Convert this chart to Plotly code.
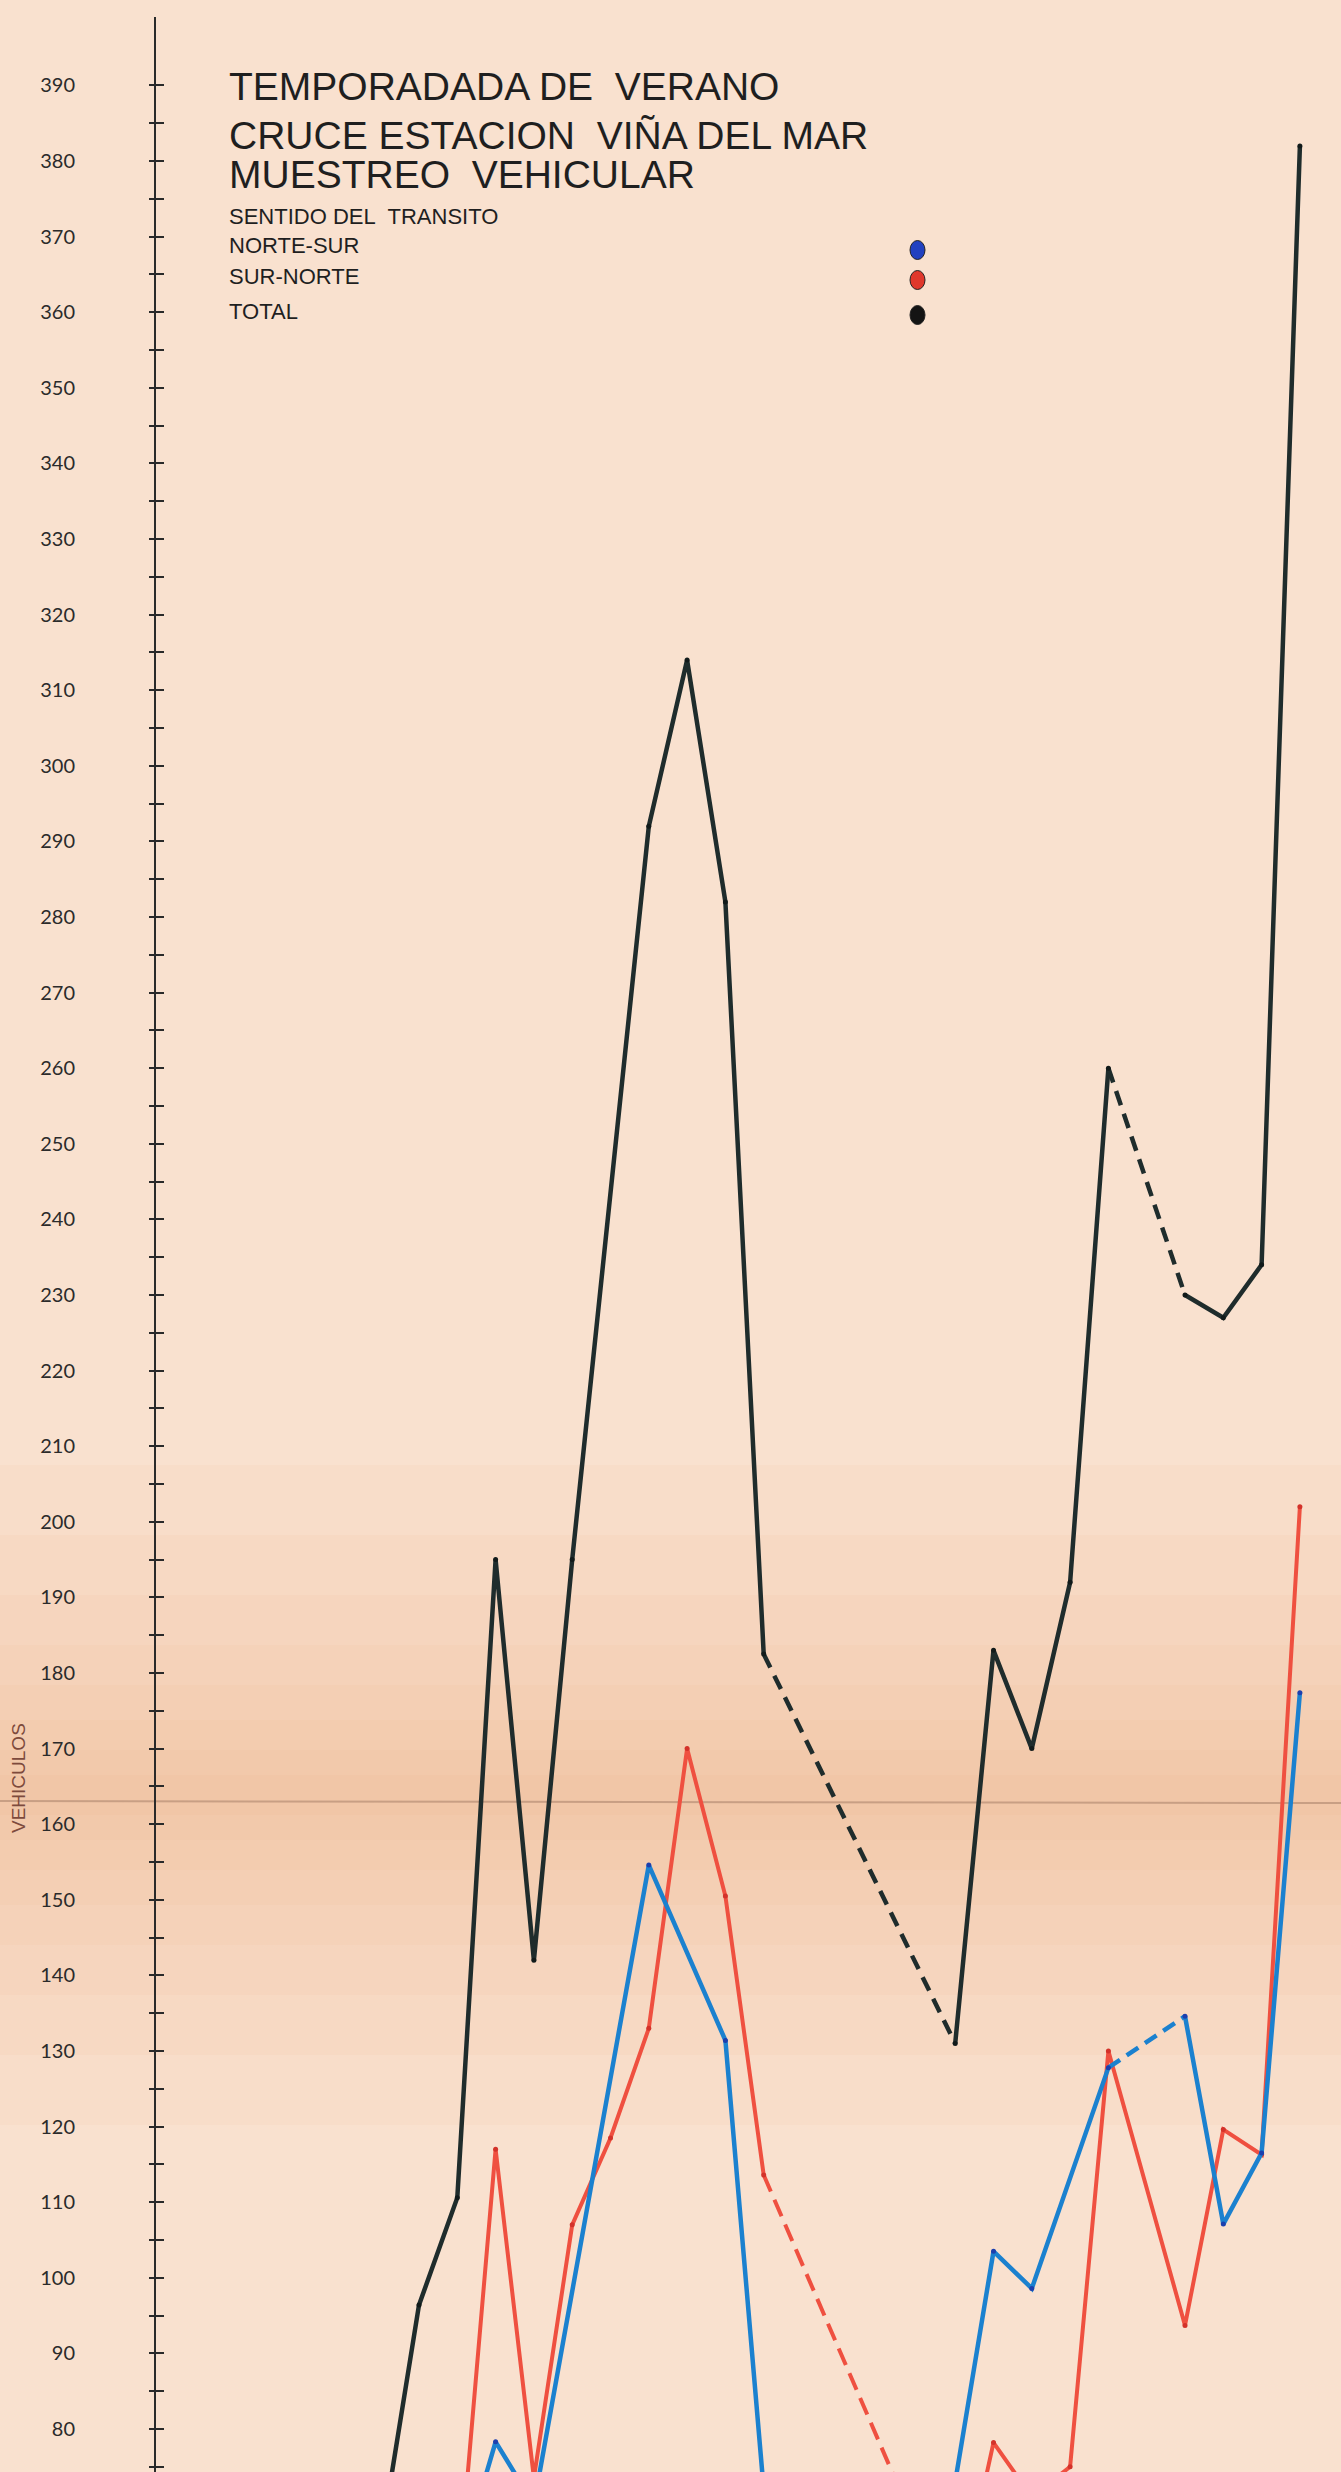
import plotly.graph_objects as go

# ---------------- data ----------------
# day index (1 = first day, partly below the visible range)
DIAS_TOTAL = [1, 2, 3, 4, 5, 6, 8, 9, 10, 11, 16, 17, 18, 19, 20, 22, 23, 24, 25]
TOTAL = [65, 96.4, 110.6, 195, 142, 195, 292, 314, 282, 182.5,
         131, 183, 170, 192, 260, 230, 227, 234, 382]

DIAS_SUR_NORTE = [3, 4, 5, 6, 7, 8, 9, 10, 11, 16, 17, 18, 19, 20, 22, 23, 24, 25]
SUR_NORTE = [58, 117, 73.5, 107, 118.5, 133, 170, 150.5, 113.6,
             55, 78.2, 71, 75, 130, 93.7, 119.6, 116.3, 202]

DIAS_NORTE_SUR = [3, 4, 5, 8, 10, 11, 16, 17, 18, 20, 22, 23, 24, 25]
NORTE_SUR = [61, 78.3, 70, 154.6, 131.4, 72,
             73, 103.5, 98.6, 127.8, 134.6, 107.1, 116.5, 177.4]

# stretches drawn dashed (from day, to day)
TRAMOS_TOTAL = [(11, 16), (20, 22)]
TRAMOS_SUR_NORTE = [(11, 16)]
TRAMOS_NORTE_SUR = [(11, 16), (20, 22)]

Y_TICKS = list(range(75, 395, 5))
Y_TICK_LABELS = [str(v) if v % 10 == 0 else "" for v in Y_TICKS]

TITULOS = ["TEMPORADADA DE\u00a0 VERANO",
           "CRUCE ESTACION\u00a0 VIÑA DEL MAR",
           "MUESTREO\u00a0 VEHICULAR"]
SUBTITULO = "SENTIDO DEL\u00a0 TRANSITO"
LEYENDA = ["NORTE-SUR", "SUR-NORTE", "TOTAL"]

# ---------------- layout geometry (pixels) ----------------
W, H = 1341, 2472
ML, MT = 156, 17
X0_PX, STEP_PX = 419, 38.3          # pixel of day 2 and spacing
Y_RANGE = [74.31, 399.06]
X_RANGE = [2 + (ML - X0_PX) / STEP_PX, 2 + (W - X0_PX) / STEP_PX]


def fx(px):
    return (px - ML) / (W - ML)


def fy(py):
    return (H - py) / (H - MT)


def split(days, vals, gaps):
    sx, sy = [], []
    for i, (d, v) in enumerate(zip(days, vals)):
        if i > 0 and (days[i - 1], d) in gaps:
            sx.append(None)
            sy.append(None)
        sx.append(d)
        sy.append(v)
    dx, dy = [], []
    for a, b in gaps:
        dx += [a, b, None]
        dy += [vals[days.index(a)], vals[days.index(b)], None]
    return sx, sy, dx, dy


fig = go.Figure()

series = [
    ("SUR-NORTE", DIAS_SUR_NORTE, SUR_NORTE, TRAMOS_SUR_NORTE, "#ef5040", "#d3322a", 4, "18px,9px"),
    ("NORTE-SUR", DIAS_NORTE_SUR, NORTE_SUR, TRAMOS_NORTE_SUR, "#1b81cf", "#1c3fae", 4.5, "14px,8px"),
    ("TOTAL", DIAS_TOTAL, TOTAL, TRAMOS_TOTAL, "#1f2c2c", "#111a1a", 4.5, "15px,9px"),
]
for name, days, vals, gaps, col, mcol, lw, dash in series:
    sx, sy, dx, dy = split(days, vals, gaps)
    fig.add_trace(go.Scatter(x=dx, y=dy, mode="lines", name=name, showlegend=False,
                             line=dict(color=col, width=lw, dash=dash), hoverinfo="skip"))
    fig.add_trace(go.Scatter(x=sx, y=sy, mode="lines+markers", name=name, showlegend=False,
                             line=dict(color=col, width=lw),
                             marker=dict(color=mcol, size=5)))

# helper trace so the second (tick) axis is drawn
fig.add_trace(go.Scatter(x=[None], y=[None], yaxis="y2", showlegend=False, hoverinfo="skip"))

axis_col = "#2a2a2a"
fig.update_layout(
    width=W, height=H,
    margin=dict(l=ML, r=0, t=MT, b=0, autoexpand=False),
    paper_bgcolor="#f9e1cf",
    plot_bgcolor="rgba(0,0,0,0)",
    showlegend=False,
    xaxis=dict(visible=False, range=X_RANGE, fixedrange=True),
    yaxis=dict(range=Y_RANGE, tickmode="array", tickvals=Y_TICKS, ticktext=Y_TICK_LABELS,
               ticks="outside", ticklen=5, tickwidth=2, tickcolor=axis_col,
               showline=True, linewidth=2, linecolor=axis_col,
               showgrid=False, zeroline=False, automargin=False,
               tickfont=dict(family="Lato", size=20, color="#2b2b2b"),
               ticklabelstandoff=70),
    yaxis2=dict(range=Y_RANGE, overlaying="y", side="left", tickmode="array",
                tickvals=Y_TICKS, ticktext=["" for _ in Y_TICKS],
                ticks="inside", ticklen=8, tickwidth=2, tickcolor=axis_col,
                showline=False, showgrid=False, zeroline=False, showticklabels=False),
)

# paper discolouration band and fold crease
shapes = []
for hh in [330, 260, 200, 150, 110, 75, 45, 20]:
    shapes.append(dict(type="rect", xref="paper", yref="paper", layer="below",
                       x0=fx(0), x1=fx(W), y0=fy(1795 + hh), y1=fy(1795 - hh),
                       line=dict(width=0), fillcolor="rgba(236,150,100,0.05)"))
shapes.append(dict(type="line", xref="paper", yref="paper", layer="below",
                   x0=fx(0), x1=fx(W), y0=fy(1801), y1=fy(1803),
                   line=dict(color="rgba(140,100,80,0.4)", width=2)))

# legend dots
for cy, col in [(250, "#2241c0"), (280, "#e0382c"), (315, "#141414")]:
    shapes.append(dict(type="circle", xref="paper", yref="paper", layer="above",
                       x0=fx(910), x1=fx(925), y0=fy(cy + 9.5), y1=fy(cy - 9.5),
                       fillcolor=col, line=dict(color="#222", width=1)))
fig.update_layout(shapes=shapes)

ann = []
for txt, cy in zip(TITULOS, [86, 135.5, 174.7]):
    ann.append(dict(text=txt, x=fx(227), y=fy(cy), xref="paper", yref="paper",
                    xanchor="left", yanchor="middle", showarrow=False,
                    font=dict(family="Liberation Sans", size=39, color="#1f1f1f")))
for txt, cy in zip([SUBTITULO] + LEYENDA, [217, 245.8, 276.7, 311.3]):
    ann.append(dict(text=txt, x=fx(227), y=fy(cy), xref="paper", yref="paper",
                    xanchor="left", yanchor="middle", showarrow=False,
                    font=dict(family="Liberation Sans", size=22, color="#1f1f1f")))
ann.append(dict(text="VEHICULOS", x=fx(19), y=fy(1778), xref="paper", yref="paper",
                xanchor="center", yanchor="middle", showarrow=False, textangle=-90,
                font=dict(family="Liberation Sans", size=19, color="#7d4a3c")))
fig.update_layout(annotations=ann)

fig.write_html("out.html",
               config={"displayModeBar": False},
               post_script="document.body.style.margin='0';document.body.style.overflow='hidden';")
